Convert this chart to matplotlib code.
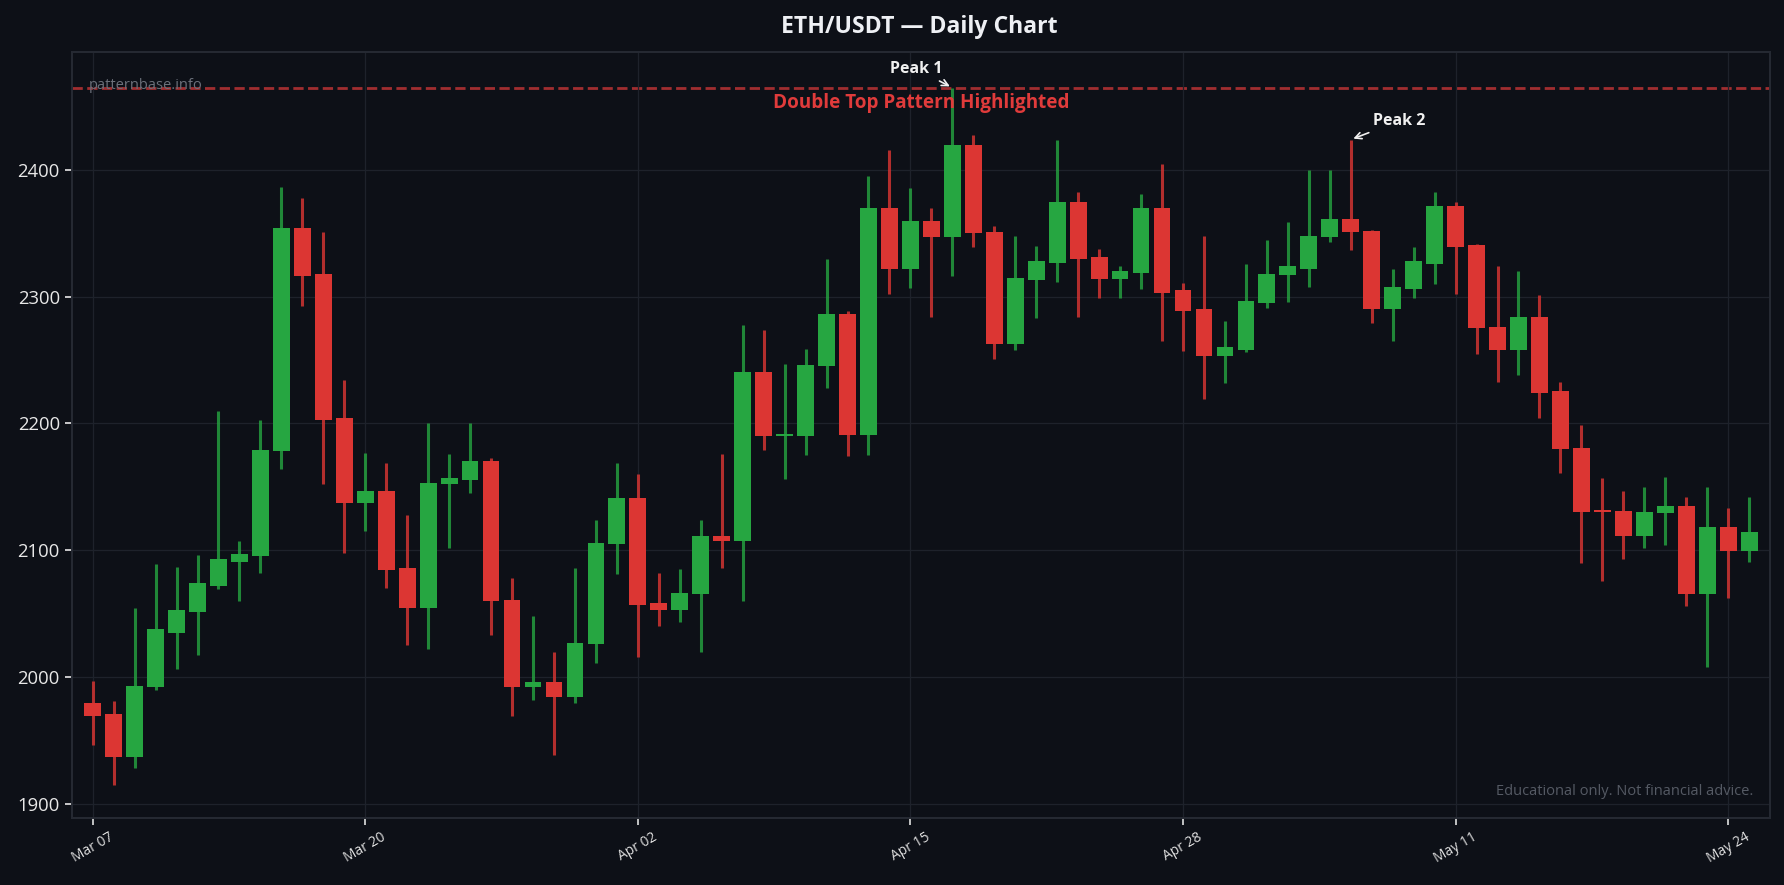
import numpy as np
import pandas as pd
import matplotlib
matplotlib.use('Agg')
from matplotlib import pyplot as plt

# daily candles, Mar 07 .. May 25
dates = pd.date_range('2025-03-07', periods=80, freq='D')
opens = [1979, 1971, 1937, 1992, 2035, 2051, 2072, 2091, 2095, 2178,
         2354, 2318, 2204, 2137, 2147, 2086, 2054, 2152, 2155, 2170,
         2061, 1992, 1996, 1984, 2026, 2105, 2141, 2058, 2053, 2065,
         2111, 2107, 2241, 2190, 2190, 2245, 2286, 2191, 2370, 2322,
         2360, 2347, 2420, 2351, 2263, 2313, 2327, 2375, 2331, 2314,
         2319, 2370, 2305, 2290, 2253, 2258, 2295, 2317, 2322, 2347,
         2361, 2352, 2290, 2306, 2326, 2372, 2341, 2276, 2258, 2284,
         2226, 2181, 2132, 2131, 2111, 2129, 2135, 2065, 2118, 2099]
highs = [1997, 1981, 2054, 2089, 2087, 2096, 2210, 2107, 2203, 2387,
         2378, 2351, 2234, 2177, 2169, 2128, 2200, 2176, 2200, 2173,
         2078, 2048, 2020, 2086, 2124, 2169, 2160, 2082, 2085, 2124,
         2176, 2278, 2274, 2247, 2259, 2330, 2289, 2395, 2416, 2386,
         2370, 2465, 2428, 2356, 2348, 2340, 2424, 2383, 2338, 2324,
         2381, 2405, 2311, 2348, 2281, 2326, 2345, 2359, 2400, 2400,
         2424, 2353, 2322, 2339, 2383, 2375, 2342, 2324, 2320, 2301,
         2233, 2199, 2157, 2147, 2150, 2158, 2142, 2150, 2133, 2142]
lows = [1946, 1915, 1928, 1990, 2006, 2017, 2069, 2060, 2082, 2164,
        2293, 2152, 2098, 2115, 2070, 2025, 2022, 2102, 2145, 2033,
        1969, 1982, 1938, 1979, 2011, 2081, 2016, 2040, 2043, 2020,
        2086, 2060, 2179, 2156, 2175, 2228, 2174, 2175, 2302, 2307,
        2284, 2316, 2339, 2251, 2258, 2283, 2312, 2284, 2299, 2299,
        2306, 2265, 2257, 2219, 2232, 2256, 2291, 2296, 2308, 2343,
        2337, 2279, 2265, 2299, 2310, 2302, 2255, 2233, 2238, 2204,
        2161, 2090, 2076, 2093, 2102, 2104, 2056, 2008, 2062, 2091]
closes = [1969, 1937, 1993, 2038, 2053, 2074, 2093, 2097, 2179, 2354,
          2316, 2203, 2137, 2147, 2084, 2054, 2153, 2157, 2170, 2060,
          1992, 1996, 1984, 2027, 2106, 2141, 2057, 2053, 2066, 2111,
          2107, 2241, 2190, 2191, 2246, 2286, 2191, 2370, 2322, 2360,
          2347, 2420, 2350, 2263, 2315, 2328, 2375, 2330, 2314, 2320,
          2370, 2303, 2289, 2253, 2260, 2297, 2318, 2324, 2348, 2361,
          2351, 2290, 2308, 2328, 2372, 2339, 2275, 2258, 2284, 2224,
          2180, 2130, 2130, 2111, 2130, 2135, 2065, 2118, 2099, 2114]

peak1 = 41; peak2 = 60
resistance = 2465

BG = '#0d1017'; UP = '#26a641'; DN = '#dc3633'
plt.rcParams['font.family'] = ['Open Sans', 'DejaVu Sans']

fig = plt.figure(figsize=(17.84, 8.85), dpi=100, facecolor=BG)
ax = fig.add_axes([0.0402, 0.076, 0.952, 0.865], facecolor=BG)

x = np.arange(len(dates))
o = np.array(opens); c = np.array(closes)
colors = [UP if c[i] >= o[i] else DN for i in range(len(x))]
ax.vlines(x, lows, highs, colors=colors, linewidth=2.2, alpha=0.8, zorder=2)
body = np.maximum(np.abs(c - o), 1.5)
ax.bar(x, body, bottom=np.minimum(o, c), width=0.8, color=colors, zorder=3)

ax.axhline(resistance, color='#e03b3b', alpha=0.7, lw=2, ls='--', zorder=1)
ax.text(0.5, 2461, 'Double Top Pattern Highlighted', color='#e03b3b',
        fontsize=13.6, fontweight='bold', ha='center', va='top',
        transform=ax.get_yaxis_transform())
ax.annotate('Peak 1', xy=(peak1, highs[peak1]), xytext=(-26, 13.5),
            textcoords='offset points', ha='center', va='center',
            color='#f0f0f0', fontsize=11.5, fontweight='bold',
            arrowprops=dict(arrowstyle='->', color='#f0f0f0', lw=1.2))
ax.annotate('Peak 2', xy=(peak2, highs[peak2]), xytext=(35, 13.5),
            textcoords='offset points', ha='center', va='center',
            color='#f0f0f0', fontsize=11.5, fontweight='bold',
            arrowprops=dict(arrowstyle='->', color='#f0f0f0', lw=1.2))

ax.text(0.01, 0.966, 'patternbase.info', transform=ax.transAxes,
        color='#6b707a', fontsize=10.5, ha='left', va='top')
ax.text(0.99, 0.024, 'Educational only. Not financial advice.',
        transform=ax.transAxes, color='#555a64', fontsize=10.5,
        ha='right', va='bottom')

ticks = x[::13]
ax.set_xticks(ticks)
ax.set_xticklabels([dates[i].strftime('%b %d') for i in ticks], rotation=30)
ax.set_yticks(np.arange(1900, 2401, 100))
ax.set_xlim(-1, 80)
ax.set_ylim(1888.8, 2493)

ax.grid(True, color='#1e222b', lw=0.9, zorder=0)
ax.tick_params(axis='y', colors='#e8e8e8', labelsize=13.3, length=5, width=1.2)
ax.tick_params(axis='x', colors='#e0e0e0', labelsize=10, length=5, width=1.2)
for s in ax.spines.values():
    s.set_color('#262a33'); s.set_linewidth(1.4)

fig.text(0.5155, 0.969, 'ETH/USDT \u2014 Daily Chart', color='#eef0f4',
         fontsize=16.6, fontweight='bold', ha='center', va='center')

fig.savefig('out.png', dpi=100, facecolor=BG)
